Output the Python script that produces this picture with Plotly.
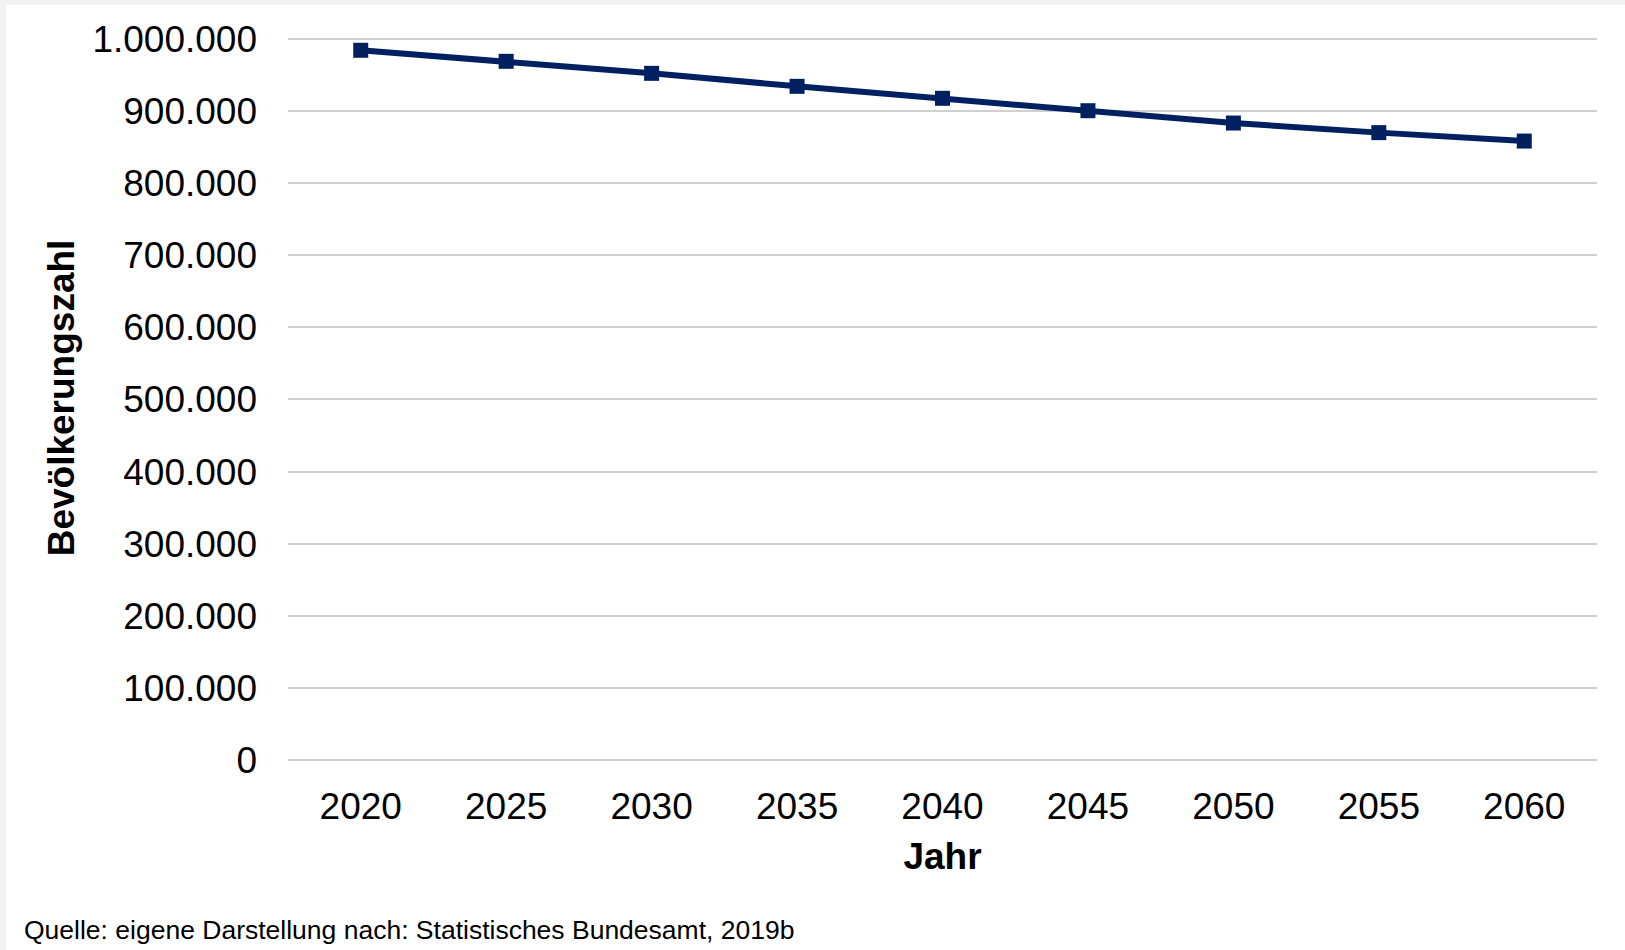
import plotly.graph_objects as go

years = ["2020", "2025", "2030", "2035", "2040", "2045", "2050", "2055", "2060"]
population = [984200, 968900, 952200, 934200, 917600, 900400, 883300, 870000, 858300]

W, H = 1625, 950
ML, MR, MT, MB = 288, 28, 36, 190
PW, PH = W - ML - MR, H - MT - MB

def px_x(p):
    return (p - ML) / PW

def px_y(p):
    return 1 - (p - MT) / PH

FONT = "Liberation Sans, Arial, sans-serif"

fig = go.Figure()
fig.add_trace(go.Scatter(
    x=years, y=population, mode="lines+markers",
    line=dict(color="#002060", width=6),
    marker=dict(symbol="square", size=15, color="#002060"),
    cliponaxis=False, showlegend=False,
))

fig.update_layout(
    width=W, height=H,
    margin=dict(l=ML, r=MR, t=MT, b=MB),
    paper_bgcolor="white", plot_bgcolor="white",
    separators=",.",
    font=dict(family=FONT, size=37, color="black"),
    xaxis=dict(
        type="category", range=[-0.5, 8.5], showgrid=False, showline=False,
        ticks="", ticklabelstandoff=21, tickfont=dict(size=37),
        title=dict(text="<b>Jahr</b>", font=dict(size=37), standoff=17),
        fixedrange=True,
    ),
    yaxis=dict(
        range=[0, 1004000], tickvals=[0, 100000, 200000, 300000, 400000, 500000,
                                      600000, 700000, 800000, 900000, 1000000],
        tickformat=",.0f",
        showgrid=True, gridcolor="#d0d0d0", gridwidth=2,
        zeroline=True, zerolinecolor="#d0d0d0", zerolinewidth=2,
        showline=False, ticks="", ticklabelstandoff=30, tickfont=dict(size=37),
        title=dict(text="<b>Bevölkerungszahl</b>", font=dict(size=37), standoff=6),
        fixedrange=True,
    ),
    shapes=[
        dict(type="rect", xref="paper", yref="paper", layer="below",
             x0=px_x(0), x1=px_x(6), y0=px_y(H), y1=px_y(0),
             fillcolor="#f2f2f2", line=dict(width=0)),
        dict(type="rect", xref="paper", yref="paper", layer="below",
             x0=px_x(0), x1=px_x(W), y0=px_y(5), y1=px_y(0),
             fillcolor="#f2f2f2", line=dict(width=0)),
    ],
    annotations=[
        dict(text="Quelle: eigene Darstellung nach: Statistisches Bundesamt, 2019b",
             xref="paper", yref="paper", x=px_x(22), y=px_y(930),
             xanchor="left", yanchor="middle", showarrow=False,
             font=dict(size=26.5, family=FONT, color="black")),
    ],
)

fig.write_html("out.html")
